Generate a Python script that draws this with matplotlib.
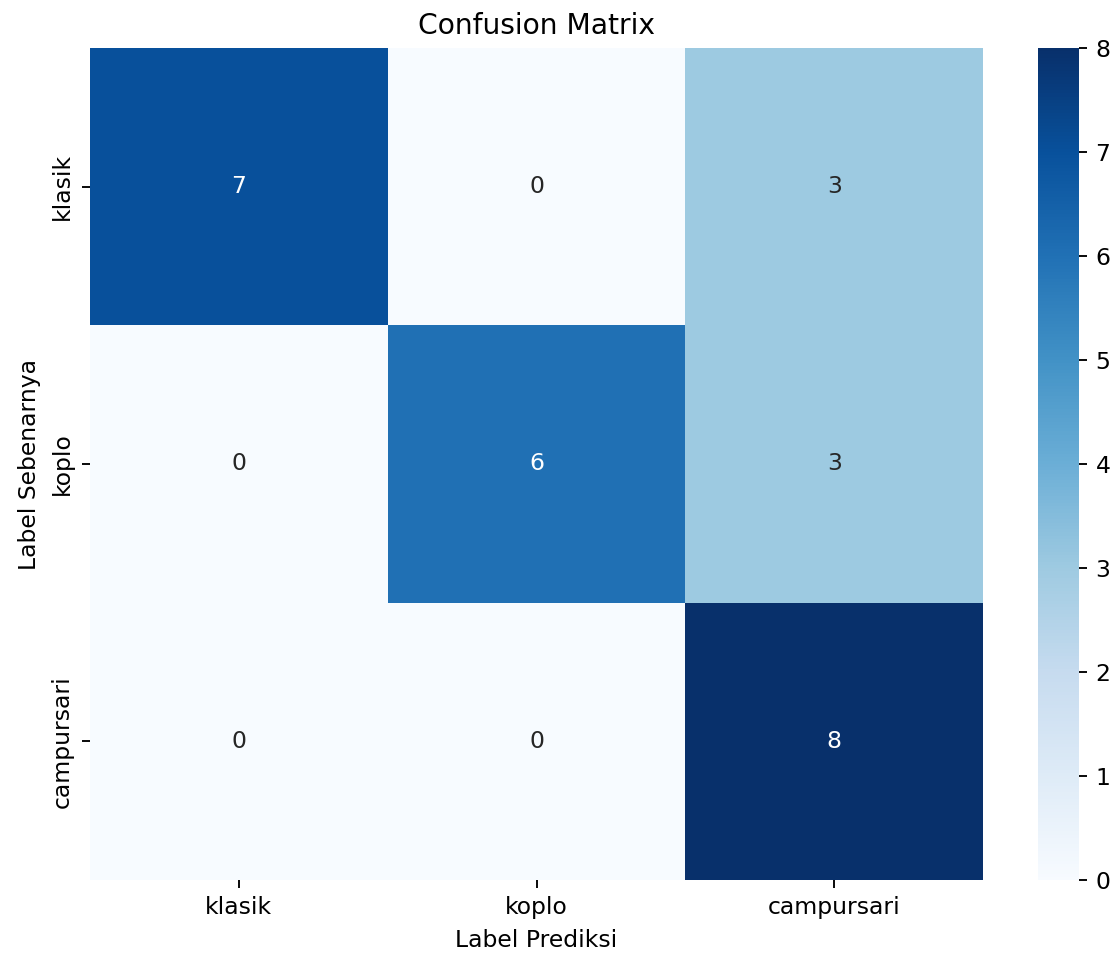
import matplotlib
matplotlib.use("Agg")
import matplotlib.pyplot as plt
import numpy as np
import seaborn as sns

labels = ["klasik", "koplo", "campursari"]
cm = np.array([
    [7, 0, 3],
    [0, 6, 3],
    [0, 0, 8],
])

W, H, DPI = 1119, 959, 169
fig = plt.figure(figsize=(W / DPI, H / DPI), dpi=DPI)

# axes placed in pixel terms of the reference
ax = fig.add_axes([90 / W, 1 - 880 / H, (983 - 90) / W, (880 - 48) / H])
cax = fig.add_axes([1038 / W, 1 - 880 / H, (1079 - 1038) / W, (880 - 48) / H])

sns.heatmap(cm, annot=True, fmt="d", cmap="Blues",
            xticklabels=labels, yticklabels=labels,
            ax=ax, cbar_ax=cax)

ax.set_title("Confusion Matrix")
ax.set_xlabel("Label Prediksi")
ax.set_ylabel("Label Sebenarnya")

fig.savefig("out.png", dpi=DPI)
